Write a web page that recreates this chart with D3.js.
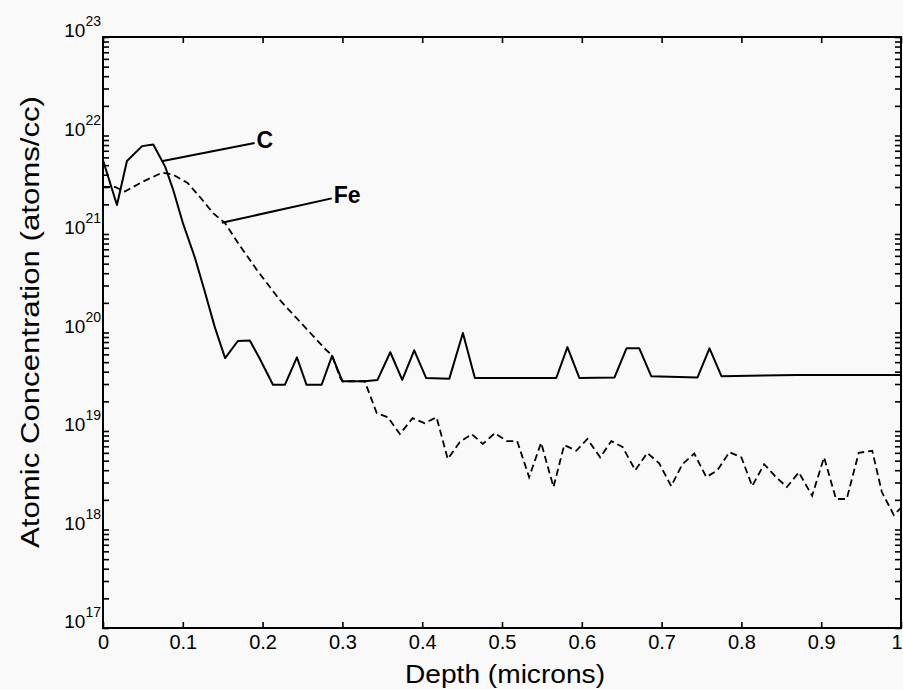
<!DOCTYPE html>
<html>
<head>
<meta charset="utf-8">
<script src="https://cdn.jsdelivr.net/npm/d3@7.9.0/dist/d3.min.js"></script>
<style>
  html, body { margin: 0; padding: 0; background: #f9f9f9; }
  svg { display: block; font-family: "Liberation Sans", Arial, sans-serif; }
</style>
</head>
<body>
<svg id="chart" width="903" height="690"></svg>
<script>
// Carbon profile (solid): [depth in microns, atoms/cc]
const carbon = [
  [0.000, 5.6e21], [0.0175, 1.97e21], [0.030, 5.5e21], [0.049, 7.8e21], [0.063, 8.1e21],
  [0.078, 4.8e21], [0.088, 2.8e21], [0.100, 1.3e21], [0.115, 5.8e20], [0.127, 2.7e20],
  [0.140, 1.14e20], [0.153, 5.5e19], [0.169, 8.2e19], [0.184, 8.3e19], [0.196, 5.5e19],
  [0.213, 2.95e19], [0.228, 2.95e19], [0.243, 5.6e19], [0.255, 2.95e19], [0.274, 2.95e19],
  [0.287, 5.8e19], [0.300, 3.2e19], [0.328, 3.2e19], [0.344, 3.3e19], [0.360, 6.3e19],
  [0.375, 3.3e19], [0.390, 6.6e19], [0.405, 3.45e19], [0.434, 3.4e19], [0.451, 9.9e19],
  [0.466, 3.45e19], [0.568, 3.45e19], [0.582, 7.1e19], [0.597, 3.45e19], [0.641, 3.5e19],
  [0.656, 6.9e19], [0.672, 6.9e19], [0.687, 3.6e19], [0.745, 3.5e19], [0.760, 6.9e19],
  [0.775, 3.6e19], [0.870, 3.7e19], [1.000, 3.7e19]
];

// Iron profile (dashed)
const iron = [
  [0.000, 3.0e21], [0.015, 3.0e21], [0.0275, 2.7e21], [0.050, 3.4e21], [0.074, 4.2e21],
  [0.088, 4.0e21], [0.106, 3.3e21], [0.121, 2.4e21], [0.138, 1.63e21], [0.153, 1.29e21],
  [0.171, 7.7e20], [0.193, 4.3e20], [0.2215, 2.14e20], [0.247, 1.28e20], [0.280, 6.6e19],
  [0.287, 5.9e19], [0.297, 3.5e19], [0.300, 3.2e19], [0.328, 3.2e19], [0.343, 1.52e19],
  [0.357, 1.38e19], [0.372, 9.3e18], [0.388, 1.35e19], [0.403, 1.2e19], [0.418, 1.38e19],
  [0.432, 5.2e18], [0.447, 7.7e18], [0.462, 9.3e18], [0.476, 7.4e18], [0.491, 9.5e18],
  [0.506, 7.9e18], [0.519, 7.9e18], [0.534, 3.4e18], [0.549, 7.6e18], [0.5645, 2.7e18],
  [0.578, 7.2e18], [0.593, 6.3e18], [0.607, 8.3e18], [0.623, 5.4e18], [0.637, 7.9e18],
  [0.651, 6.9e18], [0.667, 4.0e18], [0.682, 6.0e18], [0.697, 4.7e18], [0.712, 2.76e18],
  [0.726, 4.6e18], [0.741, 5.9e18], [0.756, 3.4e18], [0.770, 4.0e18], [0.785, 6.1e18],
  [0.800, 5.4e18], [0.8135, 2.76e18], [0.8285, 4.6e18], [0.8435, 3.4e18], [0.857, 2.7e18],
  [0.872, 3.8e18], [0.8886, 2.2e18], [0.9036, 5.4e18], [0.9186, 2.04e18], [0.932, 2.04e18],
  [0.947, 6.0e18], [0.964, 6.3e18], [0.976, 2.4e18], [0.991, 1.4e18], [1.000, 1.66e18]
];

const xTicks = [0, 0.1, 0.2, 0.3, 0.4, 0.5, 0.6, 0.7, 0.8, 0.9, 1];
const xTickLabels = ["0", "0.1", "0.2", "0.3", "0.4", "0.5", "0.6", "0.7", "0.8", "0.9", "1"];
const decades = [17, 18, 19, 20, 21, 22, 23];

// label callouts: curve point -> label point, in data coords
const callouts = [
  { name: "C",  from: [0.075, 5.5e21], to: [0.190, 8.4e21] },
  { name: "Fe", from: [0.149, 1.3e21], to: [0.2866, 2.3e21] }
];

const svg = d3.select('#chart');
const plotLeft = 103, plotRight = 901, plotTop = 37, plotBottom = 628;

const x = d3.scaleLinear().domain([0, 1]).range([plotLeft, plotRight]);
const y = d3.scaleLog().domain([1e17, 1e23]).range([plotBottom, plotTop]);

svg.append('rect').attr('width', 903).attr('height', 690).attr('fill', '#f9f9f9');

// minor + major y ticks
const yTicks = [];
decades.forEach((e) => {
  for (let m = 1; m <= 9; m++) {
    if (e === 23 && m > 1) break;
    yTicks.push(m * Math.pow(10, e));
  }
});

const tickStyle = (g) => {
  g.select('.domain').remove();
  g.selectAll('.tick line').attr('stroke', '#000').attr('stroke-width', 1.6);
};

// left axis (labels added by hand for superscripts)
svg.append('g')
  .attr('transform', `translate(${plotLeft},0)`)
  .call(d3.axisLeft(y).tickValues(yTicks).tickSize(-6).tickFormat(''))
  .call(tickStyle);

svg.append('g')
  .attr('transform', `translate(${plotRight},0)`)
  .call(d3.axisRight(y).tickValues(yTicks).tickSize(-6).tickFormat(''))
  .call(tickStyle);

// bottom / top axes
svg.append('g')
  .attr('transform', `translate(0,${plotBottom})`)
  .call(d3.axisBottom(x).tickValues(xTicks).tickSize(-6).tickFormat((d, i) => xTickLabels[i]))
  .call(tickStyle)
  .call((g) => g.selectAll('.tick text')
    .attr('y', 21).attr('dy', 0)
    .attr('font-size', 20).attr('fill', '#000')
    .attr('font-family', '"Liberation Sans", Arial, sans-serif'))
  .call((g) => g.selectAll('.tick text')
    .filter((d) => d === 1)
    .attr('text-anchor', 'end')
    .attr('x', 1));

svg.append('g')
  .attr('transform', `translate(0,${plotTop})`)
  .call(d3.axisTop(x).tickValues(xTicks).tickSize(-6).tickFormat(''))
  .call(tickStyle);

// y decade labels: 10^n
const yLab = svg.append('g');
decades.forEach((e) => {
  const t = yLab.append('text')
    .attr('x', plotLeft - 2)
    .attr('y', y(Math.pow(10, e)))
    .attr('text-anchor', 'end')
    .attr('fill', '#000');
  t.append('tspan').attr('font-size', 19).text('10');
  t.append('tspan').attr('font-size', 14).attr('dy', -11).text(String(e));
});

// frame
svg.append('rect')
  .attr('x', plotLeft).attr('y', plotTop)
  .attr('width', plotRight - plotLeft).attr('height', plotBottom - plotTop)
  .attr('fill', 'none').attr('stroke', '#000').attr('stroke-width', 2);

// profiles
const line = d3.line().x((d) => x(d[0])).y((d) => y(d[1]));

svg.append('path')
  .datum(iron)
  .attr('d', line)
  .attr('fill', 'none')
  .attr('stroke', '#000')
  .attr('stroke-width', 1.8)
  .attr('stroke-dasharray', '7,4');

svg.append('path')
  .datum(carbon)
  .attr('d', line)
  .attr('fill', 'none')
  .attr('stroke', '#000')
  .attr('stroke-width', 2)
  .attr('stroke-linejoin', 'round');

// callouts
callouts.forEach((c) => {
  svg.append('line')
    .attr('x1', x(c.from[0])).attr('y1', y(c.from[1]))
    .attr('x2', x(c.to[0])).attr('y2', y(c.to[1]))
    .attr('stroke', '#000').attr('stroke-width', 2);
  svg.append('text')
    .attr('x', x(c.to[0]) + 2)
    .attr('y', y(c.to[1]) + 5)
    .attr('font-size', 23)
    .attr('font-weight', 'bold')
    .attr('fill', '#000')
    .text(c.name);
});

// axis titles
svg.append('text')
  .attr('x', 505).attr('y', 683)
  .attr('text-anchor', 'middle')
  .attr('font-size', 25)
  .attr('textLength', 200)
  .attr('lengthAdjust', 'spacingAndGlyphs')
  .attr('fill', '#000')
  .text('Depth (microns)');

svg.append('text')
  .attr('transform', 'translate(39,322) rotate(-90)')
  .attr('text-anchor', 'middle')
  .attr('font-size', 25)
  .attr('textLength', 452)
  .attr('lengthAdjust', 'spacingAndGlyphs')
  .attr('fill', '#000')
  .text('Atomic Concentration (atoms/cc)');
</script>
</body>
</html>
